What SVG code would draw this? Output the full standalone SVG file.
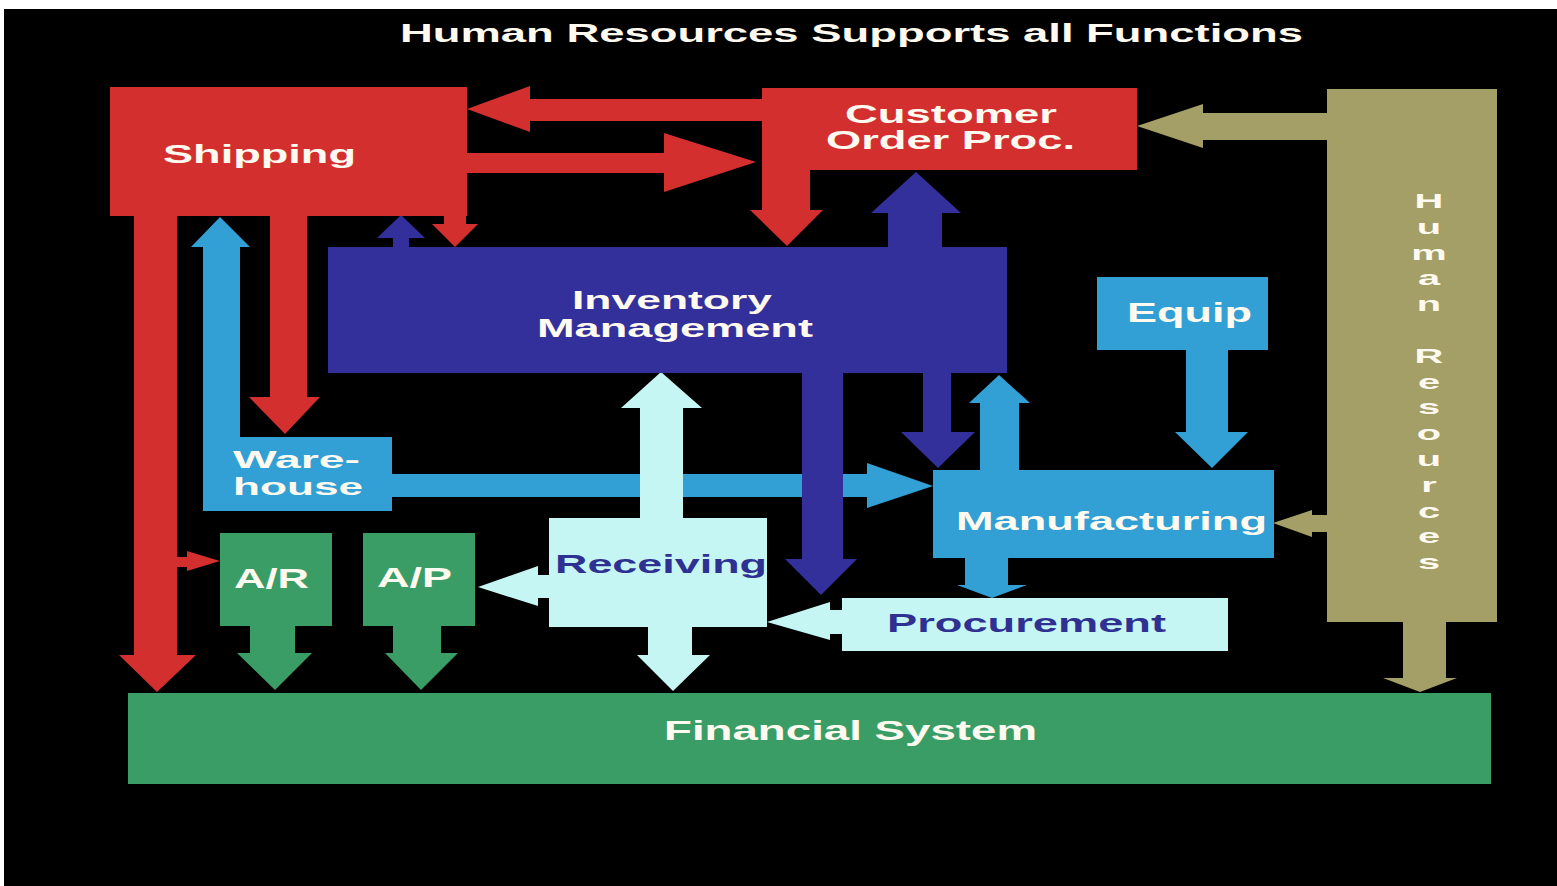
<svg xmlns="http://www.w3.org/2000/svg" width="1557" height="886" viewBox="0 0 1557 886">
<style>
.red{fill:#d32f2f}
.navy{fill:#332f9b}
.blue{fill:#32a0d4}
.pale{fill:#c6f6f3}
.green{fill:#3a9d66}
.olive{fill:#a39f66}
text{font-family:"Liberation Sans","Arial",sans-serif;font-weight:700}
.wt{fill:#fffaf0}
.bt{fill:#2e3192}
</style>
<rect x="0" y="0" width="1557" height="886" fill="#ffffff"/>
<rect x="4" y="9" width="1553" height="877" fill="#000000"/>
<text class="wt" x="400" y="42" font-size="26" textLength="903" lengthAdjust="spacingAndGlyphs">Human Resources Supports all Functions</text>
<g id="connectors">
<polygon class="blue" points="392,474 867,474 867,463 933,486 867,508 867,497 392,497"/>
<polygon class="red" points="134,216 177,216 177,655 196,655 157,692 119,655 134,655"/>
<polygon class="red" points="177,557 187,557 187,551 220,561 187,571 187,567 177,567"/>
<polygon class="red" points="270,216 307,216 307,397 320,397 285,434 249,397 270,397"/>
<polygon class="blue" points="203,437 240,437 240,247 250,247 220,217 191,247 203,247"/>
<polygon class="navy" points="393,247 409,247 409,238 425,238 401,215 377,238 393,238"/>
<polygon class="red" points="444,216 466,216 466,224 478,224 455,247 432,224 444,224"/>
<polygon class="red" points="762,99 762,121 530,121 530,132 467,109 530,86 530,99"/>
<polygon class="red" points="466,153 664,153 664,133 756,162 664,192 664,173 466,173"/>
<polygon class="red" points="762,170 810,170 810,210 823,210 787,246 750,210 762,210"/>
<polygon class="navy" points="888,247 942,247 942,213 961,213 916,172 871,213 888,213"/>
<polygon class="navy" points="923,373 951,373 951,432 975,432 938,468 901,432 923,432"/>
<polygon class="blue" points="980,470 1019,470 1019,403 1030,403 999,375 969,403 980,403"/>
<polygon class="blue" points="1186,350 1228,350 1228,432 1248,432 1212,468 1175,432 1186,432"/>
<polygon class="olive" points="1327,113 1327,140 1203,140 1203,148 1137,126 1203,104 1203,113"/>
<polygon class="olive" points="1327,515 1327,532 1312,532 1312,537 1273,523 1312,510 1312,515"/>
<polygon class="olive" points="1403,622 1446,622 1446,678 1457,678 1420,692 1383,678 1403,678"/>
<polygon class="pale" points="640,518 683,518 683,408 702,408 661,372 621,408 640,408"/>
<polygon class="pale" points="648,627 692,627 692,655 710,655 673,691 637,655 648,655"/>
<polygon class="pale" points="549,575 549,598 538,598 538,606 478,587 538,566 538,575"/>
<polygon class="green" points="250,626 295,626 295,653 312,653 275,690 237,653 250,653"/>
<polygon class="green" points="393,626 441,626 441,653 458,653 421,690 385,653 393,653"/>
<polygon class="navy" points="802,373 843,373 843,559 857,559 821,595 785,559 802,559"/>
<polygon class="pale" points="842,610 842,634 830,634 830,640 767,622 830,602 830,610"/>
<polygon class="blue" points="965,558 1008,558 1008,585 1027,585 992,598 957,585 965,585"/>
</g>
<g id="shipping">
<rect class="red" x="110" y="87" width="357" height="129"/>
<text class="wt" x="163" y="163" font-size="26" textLength="193" lengthAdjust="spacingAndGlyphs">Shipping</text>
</g>
<g id="customer-order">
<rect class="red" x="762" y="88" width="375" height="82"/>
<text class="wt" x="845" y="123" font-size="25" textLength="212" lengthAdjust="spacingAndGlyphs">Customer</text>
<text class="wt" x="826" y="149" font-size="25" textLength="249" lengthAdjust="spacingAndGlyphs">Order Proc.</text>
</g>
<g id="inventory">
<rect class="navy" x="328" y="247" width="679" height="126"/>
<text class="wt" x="572" y="309" font-size="25" textLength="200" lengthAdjust="spacingAndGlyphs">Inventory</text>
<text class="wt" x="537" y="337" font-size="25" textLength="276" lengthAdjust="spacingAndGlyphs">Management</text>
</g>
<g id="equip">
<rect class="blue" x="1097" y="277" width="171" height="73"/>
<text class="wt" x="1127" y="322" font-size="27" textLength="125" lengthAdjust="spacingAndGlyphs">Equip</text>
</g>
<g id="warehouse">
<rect class="blue" x="203" y="437" width="189" height="74"/>
<text class="wt" x="233" y="468" font-size="23" textLength="127" lengthAdjust="spacingAndGlyphs">Ware-</text>
<text class="wt" x="233" y="495" font-size="23" textLength="130" lengthAdjust="spacingAndGlyphs">house</text>
</g>
<g id="manufacturing">
<rect class="blue" x="933" y="470" width="341" height="88"/>
<text class="wt" x="956" y="530" font-size="25" textLength="311" lengthAdjust="spacingAndGlyphs">Manufacturing</text>
</g>
<g id="ar">
<rect class="green" x="220" y="533" width="112" height="93"/>
<text class="wt" x="234" y="588" font-size="28" textLength="75" lengthAdjust="spacingAndGlyphs">A/R</text>
</g>
<g id="ap">
<rect class="green" x="363" y="533" width="112" height="93"/>
<text class="wt" x="377" y="587" font-size="28" textLength="75" lengthAdjust="spacingAndGlyphs">A/P</text>
</g>
<g id="receiving">
<rect class="pale" x="549" y="518" width="218" height="109"/>
<text class="bt" x="555" y="573" font-size="25" textLength="212" lengthAdjust="spacingAndGlyphs">Receiving</text>
</g>
<g id="procurement">
<rect class="pale" x="842" y="598" width="386" height="53"/>
<text class="bt" x="887" y="632" font-size="26" textLength="279" lengthAdjust="spacingAndGlyphs">Procurement</text>
</g>
<g id="human-resources">
<rect class="olive" x="1327" y="89" width="170" height="533"/>
<g transform="translate(1429,0) scale(1.9,1)">
<text class="wt" font-size="21" text-anchor="middle"><tspan x="0" y="208">H</tspan><tspan x="0" y="233.8">u</tspan><tspan x="0" y="259.6">m</tspan><tspan x="0" y="285.4">a</tspan><tspan x="0" y="311.2">n</tspan><tspan x="0" y="362.8">R</tspan><tspan x="0" y="388.6">e</tspan><tspan x="0" y="414.4">s</tspan><tspan x="0" y="440.2">o</tspan><tspan x="0" y="466">u</tspan><tspan x="0" y="491.8">r</tspan><tspan x="0" y="517.6">c</tspan><tspan x="0" y="543.4">e</tspan><tspan x="0" y="569.2">s</tspan></text>
</g>
</g>
<g id="financial-system">
<rect class="green" x="128" y="693" width="1363" height="91"/>
<text class="wt" x="664" y="740" font-size="28" textLength="373" lengthAdjust="spacingAndGlyphs">Financial System</text>
</g>
</svg>
